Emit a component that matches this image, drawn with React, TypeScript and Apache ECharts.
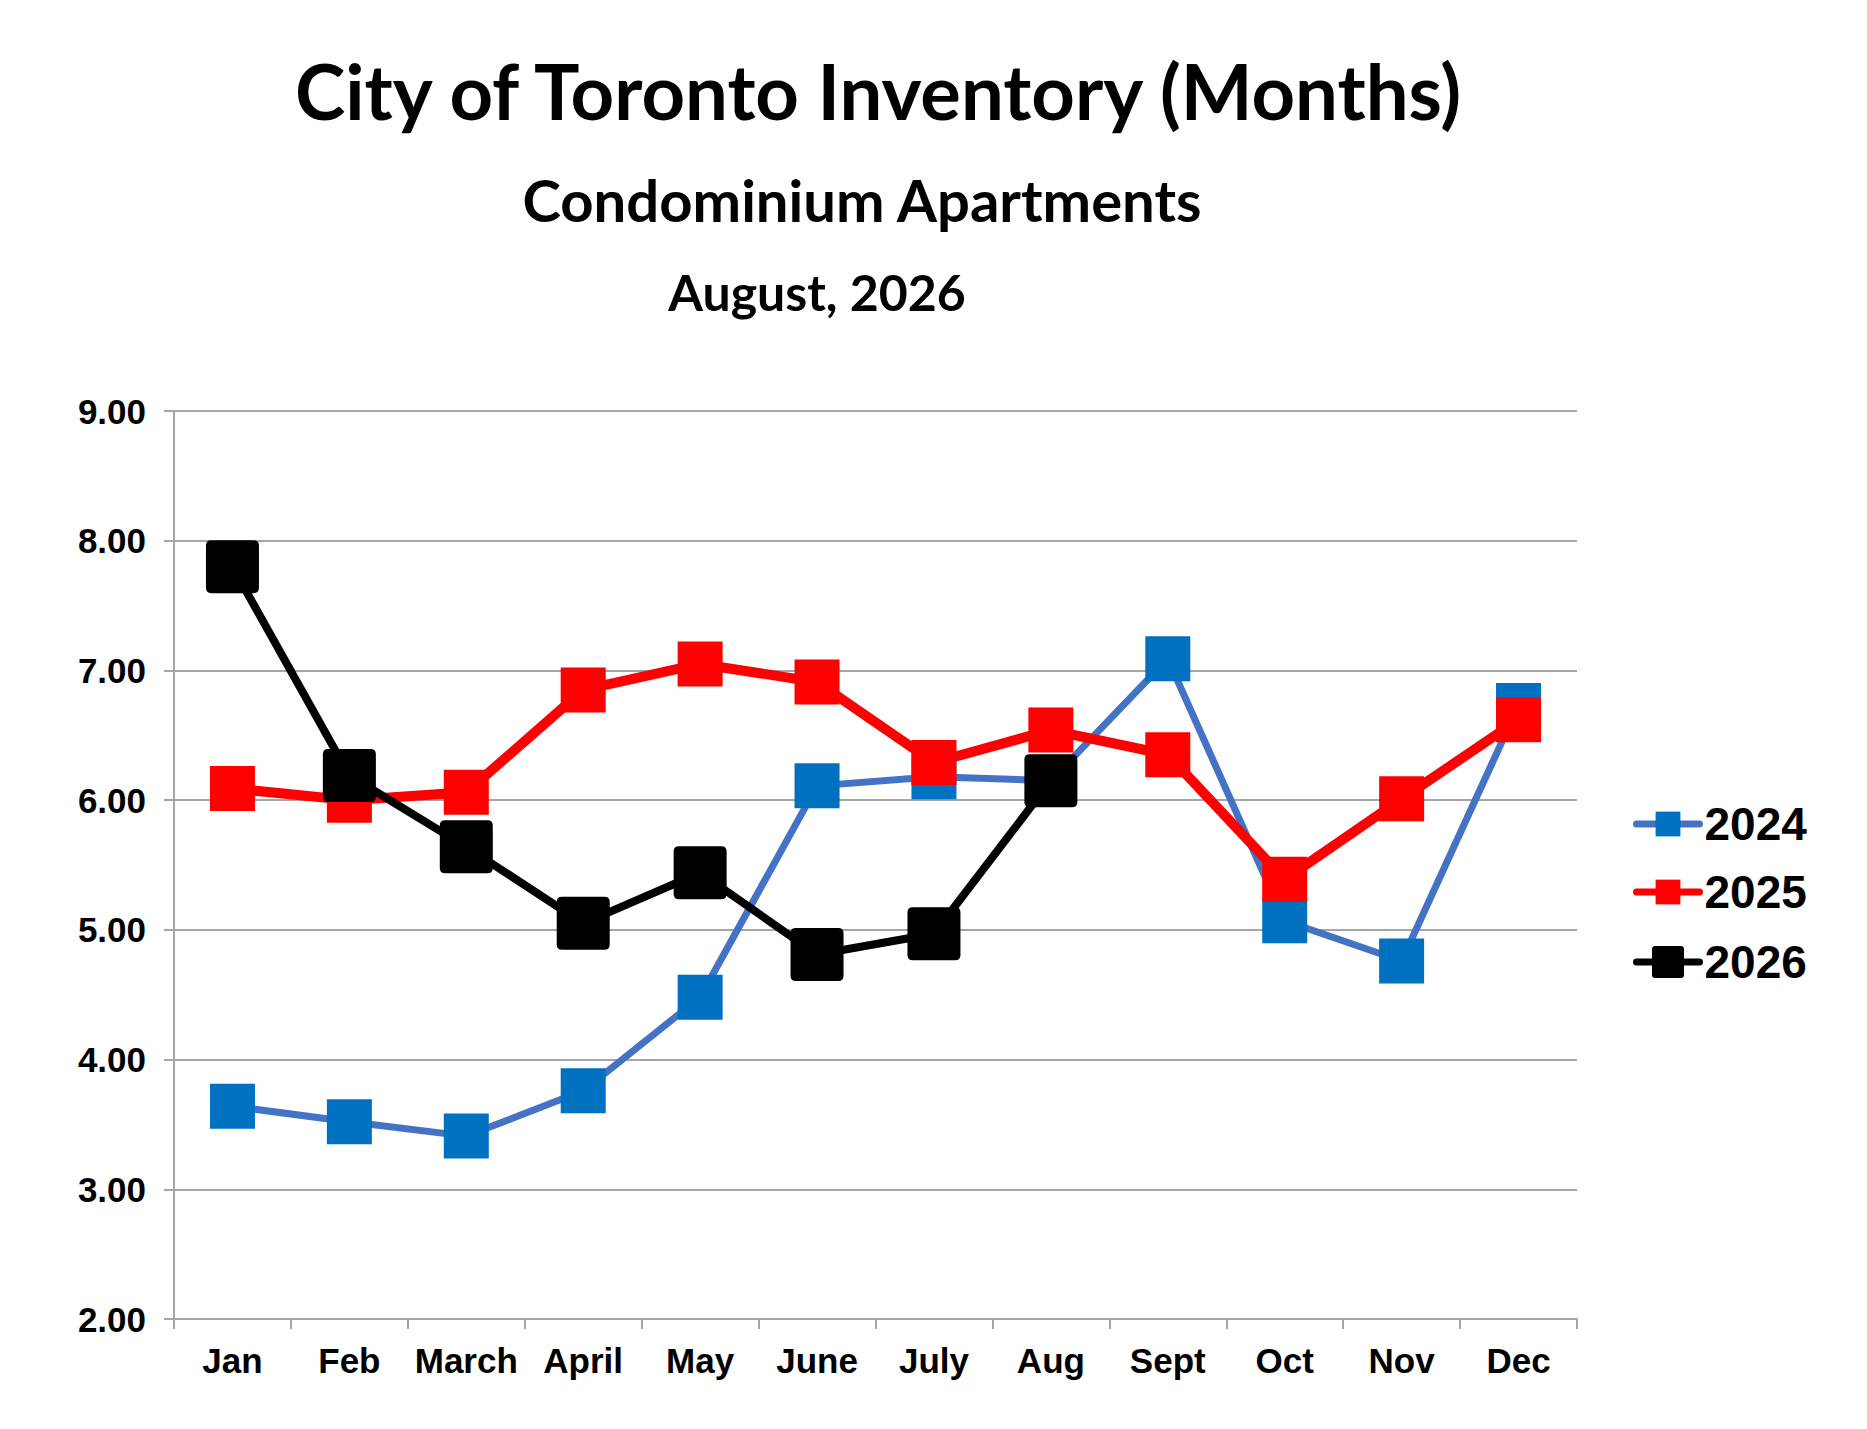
import React, { useEffect, useRef } from "react";
import * as echarts from "echarts";

const categories = ["Jan", "Feb", "March", "April", "May", "June", "July", "Aug", "Sept", "Oct", "Nov", "Dec"];
const values2024 = [3.64, 3.52, 3.41, 3.76, 4.48, 6.11, 6.18, 6.15, 7.09, 5.07, 4.76, 6.73];
const values2025 = [6.09, 6.0, 6.06, 6.85, 7.05, 6.91, 6.29, 6.54, 6.35, 5.39, 6.01, 6.62];
const values2026 = [7.8, 6.19, 5.64, 5.05, 5.44, 4.81, 4.97, 6.15];
const seriesNames = ["2024", "2025", "2026"];
const titleText = "City of Toronto Inventory (Months)";
const subtitleText = "Condominium Apartments";
const dateText = "August, 2026";
const yMin = 2;
const yMax = 9;
const yStep = 1;

const ROUND_SQ = "path://M10,0H90Q100,0 100,10V90Q100,100 90,100H10Q0,100 0,90V10Q0,0 10,0Z";
const AXIS_FONT = "'Liberation Sans', Arial, sans-serif";
const TITLE_FONT = "Lato, 'Noto Sans', sans-serif";
const GRID_GRAY = "#a6a6a6";

export default function App() {
  const ref = useRef<HTMLDivElement>(null);
  useEffect(() => {
    if (!ref.current) return;
    const chart = echarts.init(ref.current, undefined, { renderer: "svg" });
    const legendText = {
      fontSize: 46,
      fontWeight: "bold",
      fontFamily: AXIS_FONT,
      color: "#000",
      lineHeight: 46,
    };
    chart.setOption({
      animation: false,
      backgroundColor: "#fff",
      graphic: [
        {
          type: "text",
          x: 870,
          y: 82,
          style: {
            text: titleText,
            align: "center",
            verticalAlign: "middle",
            fontFamily: TITLE_FONT,
            fontWeight: "bold",
            fontSize: 76,
            fill: "#000",
          },
        },
        {
          type: "text",
          x: 854,
          y: 191,
          style: {
            text: subtitleText,
            align: "center",
            verticalAlign: "middle",
            fontFamily: TITLE_FONT,
            fontWeight: "bold",
            fontSize: 58,
            fill: "#000",
          },
        },
        {
          type: "text",
          x: 809,
          y: 284,
          style: {
            text: dateText,
            align: "center",
            verticalAlign: "middle",
            fontFamily: TITLE_FONT,
            fontWeight: "bold",
            fontSize: 50,
            fill: "#000",
          },
        },
      ],
      grid: { left: 166, right: 282, top: 403, bottom: 102, containLabel: false },
      legend: [
        {
          data: [seriesNames[0], seriesNames[1]],
          orient: "vertical",
          left: 1625,
          top: 793,
          itemWidth: 63,
          itemHeight: 31,
          itemGap: 22,
          padding: 0,
          selectedMode: false,
          lineStyle: { width: 7, cap: "round" },
          textStyle: legendText,
        },
        {
          data: [seriesNames[2]],
          orient: "vertical",
          left: 1625,
          top: 931,
          itemWidth: 63,
          itemHeight: 40,
          padding: 0,
          selectedMode: false,
          lineStyle: { width: 7, cap: "round" },
          textStyle: legendText,
        },
      ],
      xAxis: {
        type: "category",
        data: categories,
        boundaryGap: true,
        axisLine: { show: true, lineStyle: { color: GRID_GRAY, width: 2 } },
        axisTick: { show: true, length: 10, lineStyle: { color: GRID_GRAY, width: 2 } },
        axisLabel: {
          interval: 0,
          margin: 24,
          fontSize: 35,
          fontWeight: "bold",
          fontFamily: AXIS_FONT,
          color: "#000",
        },
        splitLine: { show: false },
      },
      yAxis: {
        type: "value",
        min: yMin,
        max: yMax,
        interval: yStep,
        axisLine: { show: true, lineStyle: { color: GRID_GRAY, width: 2 } },
        axisTick: { show: true, length: 10, lineStyle: { color: GRID_GRAY, width: 2 } },
        axisLabel: {
          margin: 28,
          fontSize: 35,
          fontWeight: "bold",
          fontFamily: AXIS_FONT,
          color: "#000",
          formatter: (v: number) => v.toFixed(2),
        },
        splitLine: { show: true, lineStyle: { color: GRID_GRAY, width: 2 } },
      },
      series: [
        {
          name: seriesNames[0],
          type: "line",
          data: values2024,
          symbol: "rect",
          symbolSize: 45,
          showAllSymbol: true,
          lineStyle: { color: "#4472C4", width: 7 },
          itemStyle: { color: "#0070C0", borderWidth: 0 },
          emphasis: { disabled: true },
        },
        {
          name: seriesNames[1],
          type: "line",
          data: values2025,
          symbol: "rect",
          symbolSize: 45,
          showAllSymbol: true,
          lineStyle: { color: "#FF0000", width: 10 },
          itemStyle: { color: "#FF0000", borderWidth: 0 },
          emphasis: { disabled: true },
        },
        {
          name: seriesNames[2],
          type: "line",
          data: values2026,
          symbol: ROUND_SQ,
          symbolSize: 53,
          showAllSymbol: true,
          lineStyle: { color: "#000000", width: 8 },
          itemStyle: { color: "#000000", borderWidth: 0 },
          emphasis: { disabled: true },
        },
      ],
    });
    return () => chart.dispose();
  }, []);
  return <div ref={ref} style={{ width: 1851, height: 1413 }} />;
}
